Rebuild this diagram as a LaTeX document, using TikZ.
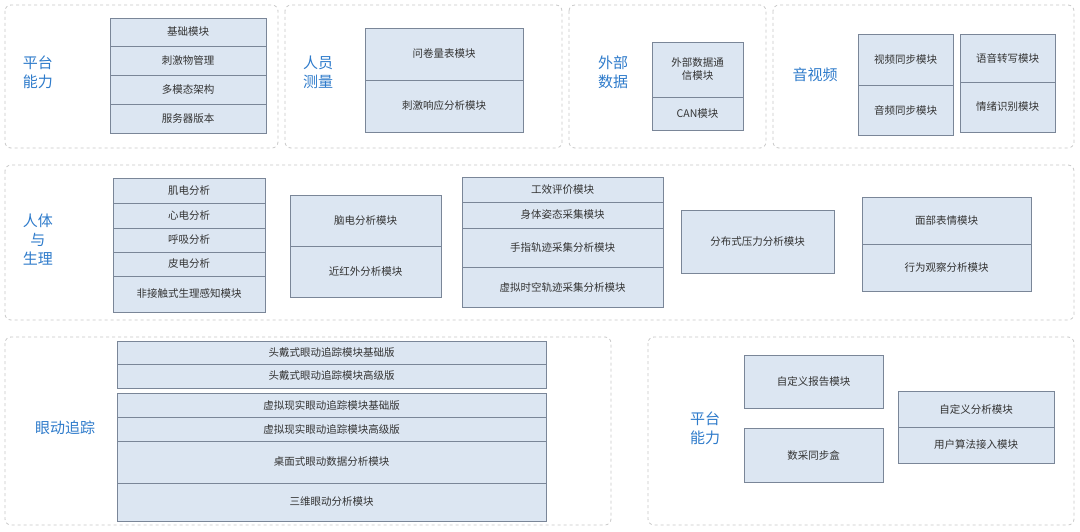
\documentclass[tikz,border=0pt]{standalone}
\usepackage{fontspec}
\setmainfont{Noto Sans CJK SC}
\definecolor{bx}{HTML}{DCE6F2}
\definecolor{bd}{HTML}{7A8698}
\definecolor{lb}{HTML}{2E7BCB}
\definecolor{pn}{HTML}{C8C8C8}
\begin{document}
\begin{tikzpicture}[x=1pt,y=-1pt,
 panel/.style={draw=pn,dashed,rounded corners=6pt,line width=0.8pt},
 bxs/.style={draw=bd,fill=bx,line width=0.6pt},
 t/.style={font=\fontsize{10.5}{13}\selectfont,text=black!80,align=center},
 lab/.style={font=\fontsize{15}{19}\selectfont,text=lb,align=center}]
\useasboundingbox (0,0) rectangle (1080,532);
\fill[white] (0,0) rectangle (1080,532);
\newcommand{\bb}[6]{\draw[bxs] (#1,#2) rectangle (#3,#4); \node[t] (#5) at ({(#1+#3)/2},{(#2+#4)/2}) {#6};}
% panels
\draw[panel] (5,5) rectangle (278,148);
\draw[panel] (285,5) rectangle (562,148);
\draw[panel] (569,5) rectangle (766,148);
\draw[panel] (773,5) rectangle (1074,148);
\draw[panel] (5,165) rectangle (1074,320);
\draw[panel] (5,337) rectangle (611,525);
\draw[panel] (648,337) rectangle (1074,525);
% labels
\node[lab] (l1) at (38,72) {平台\\能力};
\node[lab] (l2) at (318,72) {人员\\测量};
\node[lab] (l3) at (613,72) {外部\\数据};
\node[lab] (l4) at (815,75) {音视频};
\node[lab] (l5) at (38,240) {人体\\与\\生理};
\node[lab] (l6) at (65,428) {眼动追踪};
\node[lab] (l7) at (705,428) {平台\\能力};
% panel 1
\bb{110}{18}{266}{46}{a1}{基础模块}
\bb{110}{46}{266}{75}{a2}{刺激物管理}
\bb{110}{75}{266}{104}{a3}{多模态架构}
\bb{110}{104}{266}{133}{a4}{服务器版本}
% panel 2
\bb{365}{28}{523}{80}{b1}{问卷量表模块}
\bb{365}{80}{523}{132}{b2}{刺激响应分析模块}
% panel 3
\bb{652}{42}{743}{97}{c1}{外部数据通\\信模块}
\bb{652}{97}{743}{130}{c2}{CAN模块}
% panel 4
\bb{858}{34}{953}{85}{d1}{视频同步模块}
\bb{858}{85}{953}{135}{d2}{音频同步模块}
\bb{960}{34}{1055}{82}{d3}{语音转写模块}
\bb{960}{82}{1055}{132}{d4}{情绪识别模块}
% panel 5
\bb{113}{178}{265}{203}{e1}{肌电分析}
\bb{113}{203}{265}{228}{e2}{心电分析}
\bb{113}{228}{265}{252}{e3}{呼吸分析}
\bb{113}{252}{265}{276}{e4}{皮电分析}
\bb{113}{276}{265}{312}{e5}{非接触式生理感知模块}
\bb{290}{195}{441}{246}{f1}{脑电分析模块}
\bb{290}{246}{441}{297}{f2}{近红外分析模块}
\bb{462}{177}{663}{202}{g1}{工效评价模块}
\bb{462}{202}{663}{228}{g2}{身体姿态采集模块}
\bb{462}{228}{663}{267}{g3}{手指轨迹采集分析模块}
\bb{462}{267}{663}{307}{g4}{虚拟时空轨迹采集分析模块}
\bb{681}{210}{834}{273}{h1}{分布式压力分析模块}
\bb{862}{197}{1031}{244}{i1}{面部表情模块}
\bb{862}{244}{1031}{291}{i2}{行为观察分析模块}
% panel 6
\bb{117}{341}{546}{364}{j1}{头戴式眼动追踪模块基础版}
\bb{117}{364}{546}{388}{j2}{头戴式眼动追踪模块高级版}
\bb{117}{393}{546}{417}{j3}{虚拟现实眼动追踪模块基础版}
\bb{117}{417}{546}{441}{j4}{虚拟现实眼动追踪模块高级版}
\bb{117}{441}{546}{483}{j5}{桌面式眼动数据分析模块}
\bb{117}{483}{546}{521}{j6}{三维眼动分析模块}
% panel 7
\bb{744}{355}{883}{408}{k1}{自定义报告模块}
\bb{744}{428}{883}{482}{k2}{数采同步盒}
\bb{898}{391}{1054}{427}{k3}{自定义分析模块}
\bb{898}{427}{1054}{463}{k4}{用户算法接入模块}
\end{tikzpicture}
\end{document}
